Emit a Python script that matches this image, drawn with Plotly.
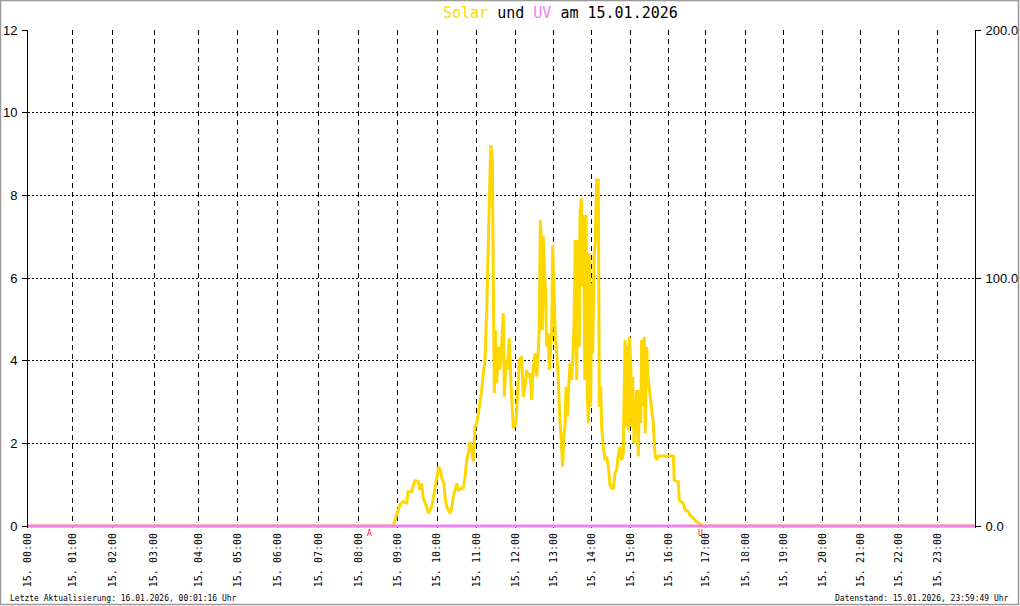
import plotly.graph_objects as go

# ---------------- data ----------------
# logger record number (0 .. 1000 over the day) at which each full hour falls
hour_labels = ["15. %02d:00" % h for h in range(24)]
hour_rec = [0, 46.8, 89.0, 133.1, 179.8, 221.0, 263.3, 306.5, 348.8, 390.0,
            431.9, 473.4, 514.6, 555.1, 594.8, 636.4, 676.6, 715.9, 757.4,
            798.0, 839.2, 878.9, 919.0, 960.2]
rec_end = 1000

# Solar radiation (W/m²) by record
solar_rec = [0, 385.7, 387.5, 390.7, 392.8, 396.0, 399.9, 401.3, 405.2, 406.9, 408.7,
             412.1, 413.9, 415.7, 417.4, 421.0, 422.7, 426.3, 428.0, 430.8, 432.2,
             433.7, 435.8, 436.9, 439.3, 440.3, 442.1, 445.6, 447.4, 449.1, 452.7,
             454.4, 458.0, 459.7, 461.5, 463.3, 464.9, 466.7, 468.5, 470.2, 472.0,
             473.8, 475.5, 477.3, 479.1, 480.8, 482.6, 484.4, 485.4, 486.8, 488.6,
             490.3, 491.3, 492.4, 493.5, 494.9, 496.6, 498.4, 500.2, 501.9, 503.0,
             504.8, 506.1, 508.2, 510.0, 511.8, 512.5, 515.3, 517.1, 518.8, 521.3,
             523.0, 524.8, 526.6, 528.3, 530.1, 531.9, 533.6, 535.4, 537.2, 538.9,
             539.9, 541.0, 542.0, 543.1, 544.1, 545.2, 546.3, 547.7, 549.4, 550.5,
             552.0, 553.0, 554.1, 555.4, 556.8, 558.3, 560.0, 561.0, 562.5, 564.6,
             566.0, 567.1, 568.1, 569.5, 571.0, 572.3, 574.1, 575.2, 576.6, 577.9,
             579.4, 580.8, 582.2, 582.9, 584.3, 585.7, 586.8, 587.9, 589.2, 590.6,
             591.7, 592.7, 594.2, 595.2, 596.3, 597.7, 599.0, 600.5, 602.2, 603.3,
             604.8, 605.8, 607.5, 609.3, 611.1, 612.8, 614.6, 616.4, 618.1, 619.9,
             621.6, 623.3, 625.1, 626.9, 628.6, 630.4, 631.5, 632.9, 633.9, 635.0,
             636.4, 637.5, 638.5, 639.9, 641.3, 642.8, 644.5, 645.5, 647.0, 648.0,
             649.7, 650.8, 651.8, 653.3, 654.7, 656.1, 657.6, 658.9, 660.3, 661.4,
             662.4, 663.9, 665.6, 681.4, 682.5, 686.7, 687.7, 692.0, 693.8, 697.3,
             699.0, 702.5, 706.1, 709.6, 713.1, 1000]
solar_wm2 = [0, 0, 2.4, 6.5, 8.5, 9.8, 9.3, 13.8, 13.8, 16.5, 18.3,
             17.9, 14.5, 17.2, 11.2, 7.8, 5.1, 7.8, 11.8, 17.2, 21.2,
             23.9, 21.9, 19.2, 17.2, 11.8, 7.8, 5.1, 7.1, 11.8, 17.2,
             14.5, 15.2, 15.2, 19.9, 26.6, 29.3, 34.0, 30.6, 25.9, 40.0,
             41.4, 45.4, 49.5, 54.8, 61.6, 66.9, 87.1, 103.2, 115.3, 153.6,
             148.9, 89.8, 53.5, 79.0, 57.5, 72.3, 62.9, 73.7, 85.8, 52.1,
             66.9, 62.9, 75.7, 57.5, 45.4, 39.4, 41.4, 54.8, 66.9, 68.3,
             52.1, 56.2, 62.9, 60.2, 61.6, 50.8, 64.2, 69.6, 60.2, 71.0,
             80.4, 123.4, 115.3, 79.0, 116.7, 104.6, 96.5, 72.3, 77.7, 62.9,
             72.3, 77.7, 113.3, 91.1, 76.3, 69.6, 60.2, 48.1, 37.4, 23.9,
             37.4, 40.0, 56.2, 44.1, 56.2, 65.6, 58.9, 65.6, 81.7, 115.3,
             58.9, 115.3, 72.3, 126.1, 132.1, 96.5, 125.4, 58.9, 125.4, 53.5,
             41.4, 110.0, 48.1, 97.9, 69.6, 108.6, 114.0, 139.5, 139.5, 48.1,
             56.2, 40.0, 32.0, 26.6, 28.0, 23.9, 16.5, 15.2, 15.2, 21.2,
             22.6, 28.6, 32.0, 26.6, 29.3, 75.0, 40.0, 72.3, 38.7, 76.3,
             66.9, 40.0, 60.2, 33.3, 44.1, 54.8, 28.0, 54.8, 41.4, 75.0,
             48.1, 76.3, 37.4, 72.3, 60.2, 54.8, 50.8, 45.4, 41.4, 33.3,
             28.0, 26.6, 28.2, 28.2, 18.5, 17.9, 10.5, 9.1, 6.5, 5.8,
             4.4, 3.1, 1.7, 0.8, 0, 0]

# UV index by record
uv_rec = [0, 1000]
uv_index = [0, 0]

# sunrise (A = Aufgang) / sunset (U = Untergang) record markers
sun_labels = ["A", "U"]
sun_rec = [361.1, 710.1]

title_date = "15.01.2026"
footer_left = "Letzte Aktualisierung: 16.01.2026, 00:01:16 Uhr"
footer_right = "Datenstand: 15.01.2026, 23:59:49 Uhr"

# ---------------- figure ----------------
SOLAR = "#FFD700"
UVC = "#EE82EE"
MONO = "DejaVu Sans Mono"
SANS = "Liberation Sans"

fig = go.Figure()
# solar on the base (right-hand) axis, UV on the overlaying left axis so it draws on top
fig.add_trace(go.Scatter(x=solar_rec, y=solar_wm2, yaxis="y", mode="lines",
                         line=dict(color=SOLAR, width=3), hoverinfo="skip"))
fig.add_trace(go.Scatter(x=uv_rec, y=uv_index, yaxis="y2", mode="lines",
                         line=dict(color=UVC, width=3), hoverinfo="skip"))

W, H = 1020, 606
# plot area: top edge at 30 px (value 12 / 200), zero at 526 px, 2 px extra below zero
L, R, T, B = 28, 45, 30, 78
pw, ph = W - L - R, H - T - B
zero_px = 526
extra = (H - B - zero_px) / (zero_px - T)   # fraction of full scale below zero

fig.update_layout(
    width=W, height=H,
    margin=dict(l=L, r=R, t=T, b=B, pad=0, autoexpand=False),
    paper_bgcolor="white", plot_bgcolor="white",
    showlegend=False, hovermode=False,
    xaxis=dict(range=[0, rec_end], tickvals=hour_rec, ticktext=hour_labels,
               tickangle=-90, showgrid=True, gridcolor="black", gridwidth=1,
               griddash="5px,4px", zeroline=False, showline=False, ticks="",
               tickfont=dict(family=MONO, size=10, color="black"),
               ticklabelstandoff=2, fixedrange=True, automargin=False),
    yaxis=dict(range=[-200 * extra, 200], side="right",
               tickvals=[0, 100, 200], ticktext=["0.0", "100.0", "200.0"],
               showgrid=False, zeroline=False, showline=True, linecolor="black",
               linewidth=1, ticks="outside", ticklen=5, tickcolor="black",
               tickfont=dict(family=SANS, size=13, color="black"),
               ticklabelstandoff=2, fixedrange=True, automargin=False),
    yaxis2=dict(range=[-12 * extra, 12], tickvals=[0, 2, 4, 6, 8, 10, 12],
                overlaying="y", side="left",
                showgrid=True, gridcolor="black",
                gridwidth=1, griddash="2px,2px", zeroline=False, showline=True,
                linecolor="black", linewidth=1, ticks="outside", ticklen=5,
                tickcolor="black", tickfont=dict(family=SANS, size=13, color="black"),
                ticklabelstandoff=2, fixedrange=True, automargin=False),
)

def px_x(p):
    return (p - L) / pw

def px_y(p):
    return (H - B - p) / ph

# title
fig.add_annotation(
    text=("<span style='color:%s'>Solar</span> und "
          "<span style='color:%s'>UV</span> am %s") % (SOLAR, UVC, title_date),
    xref="paper", yref="paper", x=px_x(560), y=px_y(13),
    xanchor="center", yanchor="middle", showarrow=False,
    font=dict(family=MONO, size=15, color="black"))

# footers
fig.add_annotation(text=footer_left, xref="paper", yref="paper",
                   x=px_x(8), y=px_y(598), xanchor="left", yanchor="middle",
                   showarrow=False, font=dict(family=MONO, size=8, color="black"))
fig.add_annotation(text=footer_right, xref="paper", yref="paper",
                   x=px_x(1011), y=px_y(598), xanchor="right", yanchor="middle",
                   showarrow=False, font=dict(family=MONO, size=8, color="black"))

# sunrise / sunset markers
for lab, r in zip(sun_labels, sun_rec):
    fig.add_annotation(text=lab, xref="x", yref="paper", x=r, y=px_y(527),
                       xanchor="center", yanchor="top",
                       showarrow=False, font=dict(family=MONO, size=8, color="red"))

# outer border
fig.add_shape(type="rect", xref="paper", yref="paper",
              x0=px_x(0.5), x1=px_x(W - 1.5), y0=px_y(H - 1.5), y1=px_y(0.5),
              line=dict(color="#999999", width=1.5), layer="above")

fig.write_html("out.html",
               config={"displayModeBar": False, "staticPlot": True},
               post_script="document.body.style.margin='0px';"
                           "document.body.style.overflow='hidden';")
